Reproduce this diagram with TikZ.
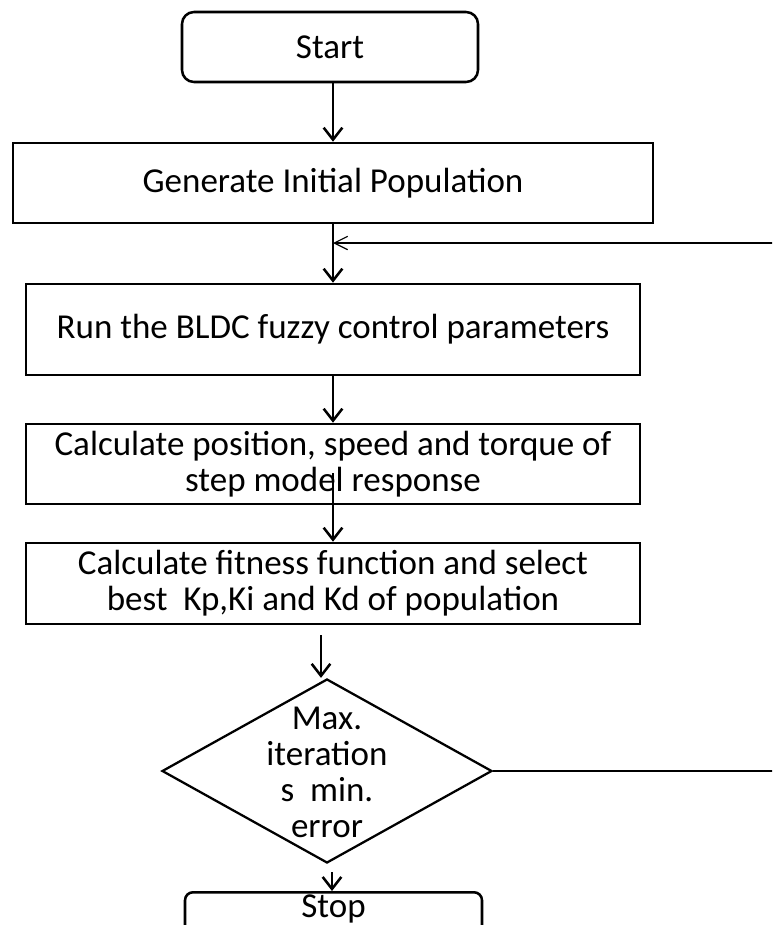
\documentclass[tikz,border=0pt]{standalone}
\usepackage{fontspec}
\setmainfont{Carlito}
\usetikzlibrary{shapes.geometric,arrows.meta}
\begin{document}
\begin{tikzpicture}[x=0.75pt,y=-0.75pt,
  txt/.style={font=\fontsize{26.25}{27}\selectfont, align=center},
  box/.style={txt, draw, line width=1.9pt, inner sep=0pt},
  arr/.style={line width=1.9pt, -{Straight Barb[length=9pt,width=14pt]}},
  fbarr/.style={line width=0.9pt, -{Straight Barb[length=10pt,width=10pt]}},
  flow/.style={line width=1.9pt}]
\clip (0,0) rectangle (772,925);
\fill[white] (0,0) rectangle (772,925);
\node[box, rounded corners=9pt, minimum width=222pt, minimum height=52.5pt] (start) at (330,47) {Start};
\node[box, minimum width=480pt, minimum height=60pt] (gen) at (333,183) {Generate Initial Population};
\node[box, minimum width=460.5pt, minimum height=68.25pt] (run) at (333,329.5) {Run the BLDC fuzzy control parameters};
\node[box, minimum width=460.5pt, minimum height=60pt] (calc) at (333,464) {Calculate position, speed and torque of\\step model response};
\node[box, minimum width=460.5pt, minimum height=60.75pt] (fit) at (333,583.5) {Calculate fitness function and select\\best~~Kp,Ki and Kd of population};
\node[draw, diamond, line width=1.7pt, minimum width=247.5pt, minimum height=138pt, inner sep=0pt] (dec) at (327,771) {};
\node[txt] (dectext) at (327,772) {Max.\\iteration\\s~~min.\\error};
\node[box, rounded corners=6pt, minimum width=222.75pt, text height=19pt, text depth=15pt, anchor=north] (stop) at (333.5,891) {Stop};
\coordinate (c4) at (333,473);
\coordinate (c5) at (321,635);
\coordinate (c6) at (332,872);
\coordinate (fb) at (333,243);
\coordinate (ur) at (776,243);
\draw[arr] (start.south -| gen.north) -- (gen.north);
\draw[arr] (gen.south) -- (run.north);
\draw[arr] (run.south) -- (calc.north);
\draw[arr] (c4) -- (c4 |- fit.north);
\draw[arr] (c5) -- (c5 |- dec.north);
\draw[arr] (c6) -- (c6 |- stop.north);
\draw[flow] (dec.east) -- (dec.east -| ur) -- (ur);
\draw[fbarr] (ur) -- (fb);
\end{tikzpicture}
\end{document}
